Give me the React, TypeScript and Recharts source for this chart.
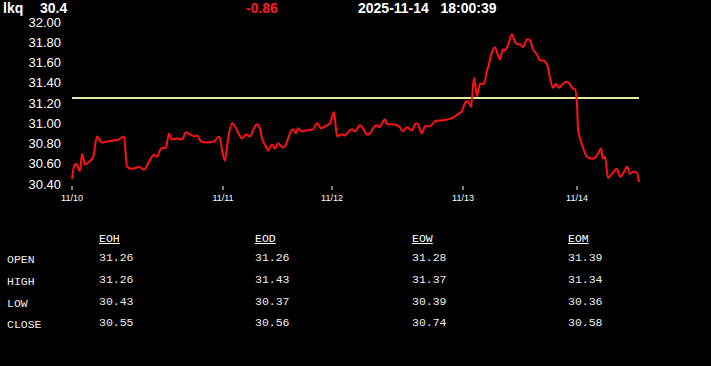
import { LineChart, Line, XAxis, YAxis, ReferenceLine } from 'recharts'

// time index (intraday bars since 11/10 open) and price
const times = [
  0, 2, 4, 8, 10, 13, 17, 21, 25, 30, 35, 42, 47, 52, 55, 59, 64, 67, 72, 77,
  82, 85, 89, 94, 97, 100, 105, 110, 114, 118, 123, 125, 129, 135, 142, 147, 151, 153, 156, 160,
  164, 167, 170, 174, 178, 182, 185, 188, 190, 194, 196, 200, 203, 206, 211, 214, 218, 221, 224, 226,
  230, 235, 241, 245, 249, 253, 258, 262, 265, 269, 273, 275, 280, 283, 288, 291, 295, 298, 301, 305,
  307, 310, 313, 315, 320, 325, 328, 331, 335, 340, 343, 345, 350, 353, 358, 363, 371, 380, 386, 390,
  393, 396, 399, 402, 405, 408, 412, 415, 416, 420, 423, 425, 428, 431, 433, 436, 440, 442, 445, 448,
  451, 455, 458, 461, 465, 468, 471, 475, 478, 481, 484, 487, 491, 495, 499, 501, 503, 505, 506, 510,
  515, 520, 523, 526, 529, 531, 533, 536, 540, 545, 548, 552, 555, 558, 561, 565, 567,
]
const prices = [
  30.45, 30.57, 30.6, 30.53, 30.7, 30.59, 30.62, 30.66, 30.87, 30.81, 30.82, 30.83, 30.84, 30.87, 30.57, 30.55, 30.56, 30.57, 30.54, 30.62,
  30.69, 30.67, 30.75, 30.76, 30.9, 30.84, 30.85, 30.84, 30.91, 30.89, 30.87, 30.88, 30.82, 30.81, 30.82, 30.87, 30.69, 30.63, 30.84, 31.0,
  30.95, 30.89, 30.85, 30.89, 30.87, 30.95, 30.99, 30.95, 30.85, 30.77, 30.73, 30.79, 30.75, 30.8, 30.76, 30.79, 30.9, 30.94, 30.9, 30.95,
  30.92, 30.93, 30.94, 31.0, 30.95, 30.97, 31.0, 31.11, 30.87, 30.89, 30.88, 30.9, 30.94, 30.92, 30.98, 30.95, 30.89, 30.9, 30.95, 30.98,
  30.96, 31.0, 31.04, 30.99, 30.99, 30.98, 30.96, 30.92, 30.96, 30.93, 30.99, 31.0, 30.9, 30.97, 30.97, 31.02, 31.03, 31.05, 31.09, 31.12,
  31.2, 31.22, 31.16, 31.45, 31.27, 31.39, 31.39, 31.52, 31.55, 31.7, 31.75, 31.7, 31.63, 31.73, 31.72, 31.77, 31.88, 31.83, 31.78, 31.78,
  31.75, 31.83, 31.82, 31.73, 31.68, 31.62, 31.62, 31.58, 31.45, 31.35, 31.39, 31.35, 31.39, 31.41, 31.37, 31.34, 31.34, 31.19, 30.95, 30.79,
  30.67, 30.65, 30.66, 30.7, 30.75, 30.65, 30.67, 30.46, 30.5, 30.55, 30.47, 30.52, 30.57, 30.5, 30.52, 30.51, 30.42,
]

const dayStarts = [0, 151, 260, 391, 505]
const dayLabels = ['11/10', '11/11', '11/12', '11/13', '11/14']
const priceTicks = [30.4, 30.6, 30.8, 31.0, 31.2, 31.4, 31.6, 31.8, 32.0]
const refPrice = 31.25

const rowLabels = ['OPEN', 'HIGH', 'LOW', 'CLOSE']
const periods = ['EOH', 'EOD', 'EOW', 'EOM']
const eoh = ['31.26', '31.26', '30.43', '30.55']
const eod = ['31.26', '31.43', '30.37', '30.56']
const eow = ['31.28', '31.37', '30.39', '30.74']
const eom = ['31.39', '31.34', '30.36', '30.58']

const data = times.map((t, i) => ({ t, price: prices[i] }))
const periodValues = [eoh, eod, eow, eom]

const sans = '"Liberation Sans", Arial, sans-serif'
const mono = '"Liberation Mono", "DejaVu Sans Mono", monospace'

function DayTick({ x, y, payload }: any) {
  const idx = dayStarts.indexOf(payload.value)
  return (
    <g>
      <line x1={x} x2={x} y1={y + 2} y2={y + 6} stroke="#fff" strokeWidth={1} />
      <text x={x} y={y + 17} textAnchor="middle" fill="#fff" fontSize={9} fontFamily={sans}>
        {dayLabels[idx]}
      </text>
    </g>
  )
}

const colX = [99, 255, 412, 568]
const rowY = [253, 275, 297, 318]

export default function App() {
  return (
    <div style={{ position: 'fixed', left: 0, top: 0, width: 711, height: 366, background: '#000', overflow: 'hidden' }}>
      <div style={{ position: 'absolute', top: 0, left: 3, color: '#fff', fontFamily: sans, fontWeight: 'bold', fontSize: 14 }}>
        lkq
      </div>
      <div style={{ position: 'absolute', top: 0, left: 40, color: '#fff', fontFamily: sans, fontWeight: 'bold', fontSize: 14 }}>
        30.4
      </div>
      <div style={{ position: 'absolute', top: 0, left: 246, color: '#ff1a1a', fontFamily: sans, fontWeight: 'bold', fontSize: 14 }}>
        -0.86
      </div>
      <div style={{ position: 'absolute', top: 0, left: 358, color: '#fff', fontFamily: sans, fontWeight: 'bold', fontSize: 14, whiteSpace: 'pre' }}>
        2025-11-14   18:00:39
      </div>

      <div style={{ position: 'absolute', top: 0, left: 0 }}>
        <LineChart width={711} height={210} data={data} margin={{ top: 22, right: 72, bottom: 6, left: 10 }}>
          <XAxis
            dataKey="t"
            type="number"
            domain={[0, 567]}
            ticks={dayStarts}
            axisLine={false}
            tickLine={false}
            tickSize={0}
            tickMargin={0}
            height={20}
            tick={<DayTick />}
            interval={0}
          />
          <YAxis
            domain={[30.4, 32.0]}
            ticks={priceTicks}
            width={62}
            axisLine={false}
            tickLine={false}
            tickSize={0}
            tickMargin={11}
            tick={{ fill: '#fff', fontSize: 13, fontFamily: sans }}
            tickFormatter={(v: number) => v.toFixed(2)}
            interval={0}
          />
          <ReferenceLine y={refPrice} stroke="#e6eaa6" strokeWidth={2} />
          <Line type="monotone" dataKey="price" stroke="#ff1111" strokeWidth={2} dot={false} isAnimationActive={false} />
        </LineChart>
      </div>

      {periods.map((p, c) => (
        <div key={p} style={{ position: 'absolute', left: colX[c], top: 232, color: '#fff', fontFamily: mono, fontSize: 11.5, textDecoration: 'underline' }}>
          {p}
        </div>
      ))}
      {rowLabels.map((r, i) => (
        <div key={r} style={{ position: 'absolute', left: 7, top: rowY[i], color: '#eee', fontFamily: mono, fontSize: 11.5 }}>
          {r}
        </div>
      ))}
      {periodValues.map((vals, c) =>
        vals.map((v, i) => (
          <div key={c + '-' + i} style={{ position: 'absolute', left: colX[c], top: rowY[i] - 2, color: '#eee', fontFamily: mono, fontSize: 11.5 }}>
            {v}
          </div>
        ))
      )}
    </div>
  )
}
